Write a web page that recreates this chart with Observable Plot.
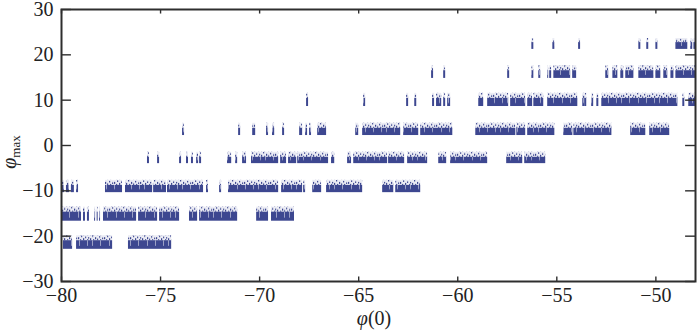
<!DOCTYPE html>
<html><head><meta charset="utf-8">
<script src="https://cdn.jsdelivr.net/npm/d3@7"></script>
<script src="https://cdn.jsdelivr.net/npm/@observablehq/plot@0.6"></script>
<style>html,body{margin:0;padding:0;background:#fff}svg{display:block}</style>
</head><body><div id="c"></div><script>
const xTicks=[-80,-75,-70,-65,-60,-55,-50];
const yTicks=[-30,-20,-10,0,10,20,30];
const levelM22=[[-79.9,-79.44],[-79.24,-77.42],[-76.62,-74.44]];
const levelM15=[[-80,-78.99],[-78.89,-78.79],[-78.69,-78.59],[-78.33,-78.28],[-78.2,-78.15],[-78.08,-78.03],[-77.88,-76.21],[-76.11,-75.15],[-75.05,-74.04],[-73.54,-73.13],[-73.03,-71.11],[-70.15,-69.55],[-69.4,-68.24]];
const levelM9=[[-80,-79.85],[-79.75,-79.6],[-79.5,-79.35],[-79.24,-79.14],[-77.78,-76.92],[-76.77,-75.4],[-75.35,-74.7],[-74.65,-72.83],[-72.68,-72.58],[-72.02,-71.92],[-71.57,-69.04],[-68.89,-67.83],[-67.78,-67.68],[-67.32,-66.87],[-66.62,-64.8],[-63.79,-63.23],[-63.13,-61.87]];
const levelM3=[[-75.66,-75.56],[-75.15,-75.05],[-74.04,-73.94],[-73.69,-73.59],[-73.44,-73.34],[-73.18,-73.08],[-73.03,-72.93],[-71.62,-71.41],[-71.21,-71.11],[-70.86,-70.66],[-70.41,-69.04],[-68.94,-68.64],[-68.54,-68.13],[-68.08,-66.52],[-66.37,-66.21],[-65.56,-65.36],[-65.25,-63.54],[-63.49,-62.68],[-62.53,-61.52],[-60.96,-60.56],[-60.36,-58.49],[-57.53,-56.72],[-56.62,-55.56]];
const levelP3=[[-73.89,-73.79],[-71.06,-70.96],[-70.35,-70.2],[-69.65,-69.55],[-69.35,-69.24],[-68.84,-68.74],[-67.98,-67.83],[-67.68,-67.58],[-67.48,-67.38],[-67.07,-66.62],[-65.15,-65],[-64.8,-62.88],[-62.73,-61.97],[-61.87,-60.25],[-59.09,-57.07],[-57.02,-56.57],[-56.47,-55.1],[-54.65,-54.19],[-54.14,-52.22],[-51.27,-50.51],[-50.31,-49.3]];
const levelP10=[[-67.63,-67.53],[-64.75,-64.65],[-62.58,-62.48],[-62.17,-62.07],[-61.27,-61.17],[-61.07,-60.81],[-60.71,-60.61],[-60.51,-60.36],[-58.94,-58.69],[-58.49,-57.43],[-57.33,-56.57],[-56.47,-56.22],[-56.16,-55.66],[-55.46,-53.94],[-53.69,-53.59],[-53.59,-53.49],[-53.24,-53.14],[-52.98,-52.88],[-52.73,-48.89],[-48.64,-48.54],[-48.34,-47.98]];
const levelP16=[[-61.32,-61.22],[-60.71,-60.61],[-57.48,-57.38],[-56.26,-56.16],[-55.91,-55.81],[-55.46,-55.41],[-55.36,-55.26],[-55.15,-54.3],[-54.2,-54],[-52.53,-52.38],[-52.17,-51.92],[-51.77,-51.62],[-51.52,-51.11],[-50.86,-50.1],[-50,-49.75],[-49.6,-49.4],[-49.24,-49.09],[-48.99,-47.98]];
const levelP23=[[-56.26,-56.16],[-55.2,-55.1],[-53.9,-53.8],[-50.86,-50.76],[-50.46,-50.36],[-50,-49.9],[-48.99,-48.39],[-48.24,-48.14],[-48.08,-47.98]];
const levels=[
 {id:0,spans:levelM22,lo:-22.9,mid:-21,hi:-19.9},
 {id:1,spans:levelM15,lo:-16.7,mid:-14.7,hi:-13.6},
 {id:2,spans:levelM9,lo:-10.4,mid:-8.8,hi:-7.7},
 {id:3,spans:levelM3,lo:-4,mid:-2.6,hi:-1.5},
 {id:4,spans:levelP3,lo:2.2,mid:3.8,hi:4.9},
 {id:5,spans:levelP10,lo:8.6,mid:10.4,hi:11.5},
 {id:6,spans:levelP16,lo:14.8,mid:16.5,hi:17.6},
 {id:7,spans:levelP23,lo:21.2,mid:22.7,hi:23.6}];
const spans=levels.flatMap(l=>l.spans.map(([a,b])=>({a,b,lo:l.lo,mid:l.mid,hi:l.hi,fringe:`url(#fr${l.id})`,core:`url(#co${l.id})`})));
const col="#3d4790", axisCol="#2e2e2e";
const plot=Plot.plot({
 width:700,height:332,marginLeft:61,marginRight:5,marginTop:9,marginBottom:51,
 style:{fontFamily:"'Liberation Serif','Times New Roman',serif",fontSize:"20px",color:"#222",background:"#fff"},
 x:{domain:[-80,-48]},y:{domain:[-30,30]},
 marks:[
  Plot.rect(spans,{x1:"a",x2:"b",y1:"mid",y2:"hi",fill:col,fillOpacity:0.1}),
  Plot.rect(spans,{x1:"a",x2:"b",y1:"mid",y2:"hi",fill:d=>d.fringe}),
  Plot.rect(spans,{x1:"a",x2:"b",y1:"lo",y2:"mid",fill:col}),
  Plot.rect(spans,{x1:"a",x2:"b",y1:"lo",y2:"mid",fill:d=>d.core}),
  Plot.axisX({ticks:xTicks,tickSize:0,tickPadding:6,label:null,tickFormat:d=>d3.format("d")(d)}),
  Plot.axisY({ticks:yTicks,tickSize:0,tickPadding:8,label:null,tickFormat:d=>d3.format("d")(d)}),
  Plot.ruleX(xTicks,{y1:-30,y2:-29,stroke:axisCol,strokeWidth:1.4}),
  Plot.ruleX(xTicks,{y1:30,y2:29,stroke:axisCol,strokeWidth:1.4}),
  Plot.ruleY(yTicks,{x1:-80,x2:-79.5,stroke:axisCol,strokeWidth:1.4}),
  Plot.ruleY(yTicks,{x1:-48,x2:-48.5,stroke:axisCol,strokeWidth:1.4}),
  Plot.frame({stroke:axisCol,strokeWidth:2})
 ]});
const svg=d3.select(plot);
// Fill textures: [x, y, length] speckles along the top edge of each band, fine streaks in the dense part
const specks=[[0,2,2],[2,4,2],[3,0.5,1.5],[5,3,3],[7,1.5,1.5],[9,4,2],[10,2,1.5],[12,3,3],[14,0,1.5],[15,4,2],[17,2,2],[19,3.5,2.5],[21,1,1.5],[22,4,2],[24,2.5,1.5]];
const coreStreaks=[3,11,16,24,33];
const defs=svg.append("defs");
const yS=plot.scale("y");
levels.forEach(l=>{
 const top=yS.apply(l.hi),mid=yS.apply(l.mid),bot=yS.apply(l.lo);
 const fp=defs.append("pattern").attr("id","fr"+l.id).attr("patternUnits","userSpaceOnUse").attr("x",l.id*5).attr("y",top).attr("width",26).attr("height",mid-top+1);
 specks.forEach(([px,py,len])=>fp.append("rect").attr("x",px).attr("y",py).attr("width",1.2).attr("height",len).attr("fill",col));
 const cp=defs.append("pattern").attr("id","co"+l.id).attr("patternUnits","userSpaceOnUse").attr("x",l.id*7).attr("y",mid).attr("width",38).attr("height",bot-mid+1);
 coreStreaks.forEach(px=>cp.append("rect").attr("x",px).attr("y",0).attr("width",0.7).attr("height",bot-mid-3).attr("fill","#fff").attr("fill-opacity",0.7));
});
svg.selectAll('g[aria-label="rect"]').style("filter","blur(0.35px)");
const xl=svg.append("text").attr("x",374).attr("y",325).attr("text-anchor","middle").attr("font-size",20).attr("fill","#222");
xl.append("tspan").attr("font-style","italic").text("φ");xl.append("tspan").text("(0)");
const yl=svg.append("text").attr("transform","translate(16,152) rotate(-90)").attr("text-anchor","middle").attr("font-size",20).attr("fill","#222");
yl.append("tspan").attr("font-style","italic").text("φ");yl.append("tspan").attr("font-size",13).attr("dy",4).text("max");
document.getElementById("c").append(plot);
</script></body></html>
